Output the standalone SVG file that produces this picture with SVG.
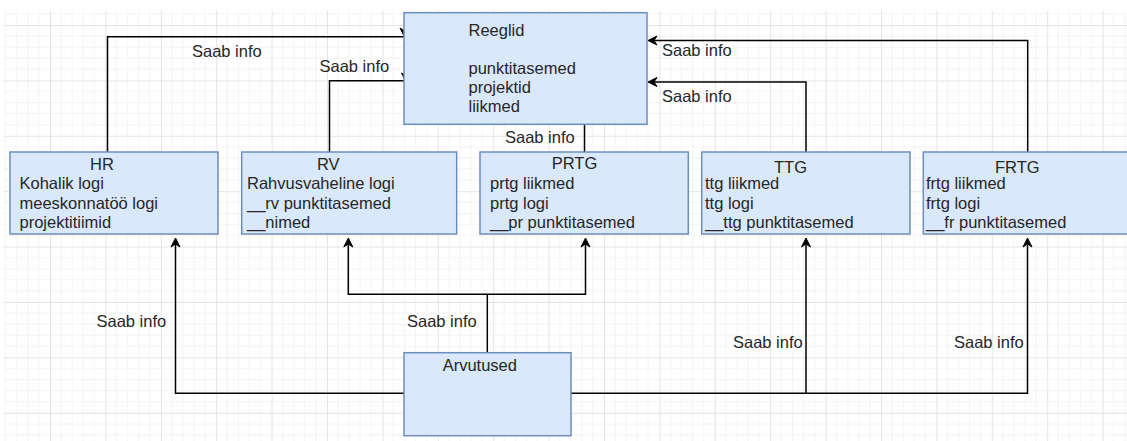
<svg xmlns="http://www.w3.org/2000/svg" width="1127" height="441" viewBox="0 0 1127 441">
<style>
.box{fill:#dae8fc;stroke:#6c8ebf;stroke-width:1.5}
.t{font-family:"Liberation Sans",Arial,sans-serif;font-size:16.5px;fill:#262626}
.ln{fill:none;stroke:#000;stroke-width:1.5}
.ah{fill:#000;stroke:#000;stroke-width:1;stroke-linejoin:miter}
</style>
<defs>
<pattern id="grid" x="-5.4" y="-30.4" width="55.4" height="55.4" patternUnits="userSpaceOnUse">
<path d="M11.08 0V55.4M22.16 0V55.4M33.24 0V55.4M44.32 0V55.4M0 11.08H55.4M0 22.16H55.4M0 33.24H55.4M0 44.32H55.4" stroke="#f3f3f3" stroke-width="1"/>
<path d="M0.5 0V55.4M0 0.5H55.4" stroke="#e4e4e4" stroke-width="1"/>
</pattern>
</defs>
<rect x="0" y="0" width="1127" height="441" fill="#fff"/>
<rect x="3" y="10" width="1124" height="431" fill="url(#grid)"/>

<g id="connectors">
<path class="ln" d="M107.5 152V36.7H404"/>
<path class="ln" d="M329.5 152V80.7H404"/>
<path class="ln" d="M584.5 152V121"/>
<path class="ln" d="M1027.7 152V40.5H650"/>
<path class="ln" d="M806 152V82H650"/>
<path class="ln" d="M487.3 352.7V294.3"/>
<path class="ln" d="M348.3 240V294.3H585.5V240"/>
<path class="ln" d="M404 393.3H175.5V240"/>
<path class="ln" d="M571 393.3H1027.5V240"/>
<path class="ln" d="M806 393.3V240"/>
<polygon class="ah" points="404.5,37 400,28 404.5,31 409,28"/>
<polygon class="ah" points="406,82 401.5,73 406,76 410.5,73"/>
<polygon class="ah" points="584.5,121.5 580,112.5 584.5,115.5 589,112.5"/>
<polygon class="ah" points="648,40.5 657,36 654,40.5 657,45"/>
<polygon class="ah" points="648,82 657,77.5 654,82 657,86.5"/>
<polygon class="ah" points="175.5,238 171,247 175.5,244 180,247"/>
<polygon class="ah" points="348.3,238 343.8,247 348.3,244 352.8,247"/>
<polygon class="ah" points="585.5,238 581,247 585.5,244 590,247"/>
<polygon class="ah" points="806,238 801.5,247 806,244 810.5,247"/>
<polygon class="ah" points="1027.5,238 1023,247 1027.5,244 1032,247"/>
<text class="t" x="192" y="56.5">Saab info</text>
<text class="t" x="319.5" y="71.7">Saab info</text>
<text class="t" x="505" y="143.3">Saab info</text>
<text class="t" x="662" y="56">Saab info</text>
<text class="t" x="662" y="101.7">Saab info</text>
<text class="t" x="96.5" y="327">Saab info</text>
<text class="t" x="407" y="327">Saab info</text>
<text class="t" x="733" y="348">Saab info</text>
<text class="t" x="954" y="348">Saab info</text>
</g>

<g id="reeglid">
<rect class="box" x="404" y="12.7" width="243" height="111.6"/>
<text class="t" x="468.5" y="35.5">Reeglid</text>
<text class="t" x="468.5" y="73.5">punktitasemed</text>
<text class="t" x="468.5" y="92.5">projektid</text>
<text class="t" x="468.5" y="111.5">liikmed</text>
</g>

<g id="hr">
<rect class="box" x="10" y="152" width="208" height="82"/>
<text class="t" x="90" y="169.5">HR</text>
<text class="t" x="19.5" y="189">Kohalik logi</text>
<text class="t" x="19.5" y="208.5">meeskonnatöö logi</text>
<text class="t" x="19.5" y="228">projektitiimid</text>
</g>

<g id="rv">
<rect class="box" x="241.7" y="152" width="215" height="82"/>
<text class="t" x="317" y="169.5">RV</text>
<text class="t" x="247" y="189">Rahvusvaheline logi</text>
<text class="t" x="247" y="208.5">__rv punktitasemed</text>
<text class="t" x="247" y="228">__nimed</text>
</g>

<g id="prtg">
<rect class="box" x="480" y="152" width="208.3" height="82"/>
<text class="t" x="551.7" y="168.5">PRTG</text>
<text class="t" x="490" y="189">prtg liikmed</text>
<text class="t" x="490" y="208.5">prtg logi</text>
<text class="t" x="490" y="228">__pr punktitasemed</text>
</g>

<g id="ttg">
<rect class="box" x="701.7" y="152" width="208.3" height="82"/>
<text class="t" x="774" y="173.3">TTG</text>
<text class="t" x="705" y="189">ttg liikmed</text>
<text class="t" x="705" y="208.5">ttg logi</text>
<text class="t" x="705" y="228">__ttg punktitasemed</text>
</g>

<g id="frtg">
<rect class="box" x="923.3" y="152" width="208.3" height="82"/>
<text class="t" x="995" y="173.3">FRTG</text>
<text class="t" x="926" y="189">frtg liikmed</text>
<text class="t" x="926" y="208.5">frtg logi</text>
<text class="t" x="926" y="228">__fr punktitasemed</text>
</g>

<g id="arvutused">
<rect class="box" x="404" y="352.7" width="167" height="83"/>
<text class="t" x="442.7" y="371">Arvutused</text>
</g>
</svg>
